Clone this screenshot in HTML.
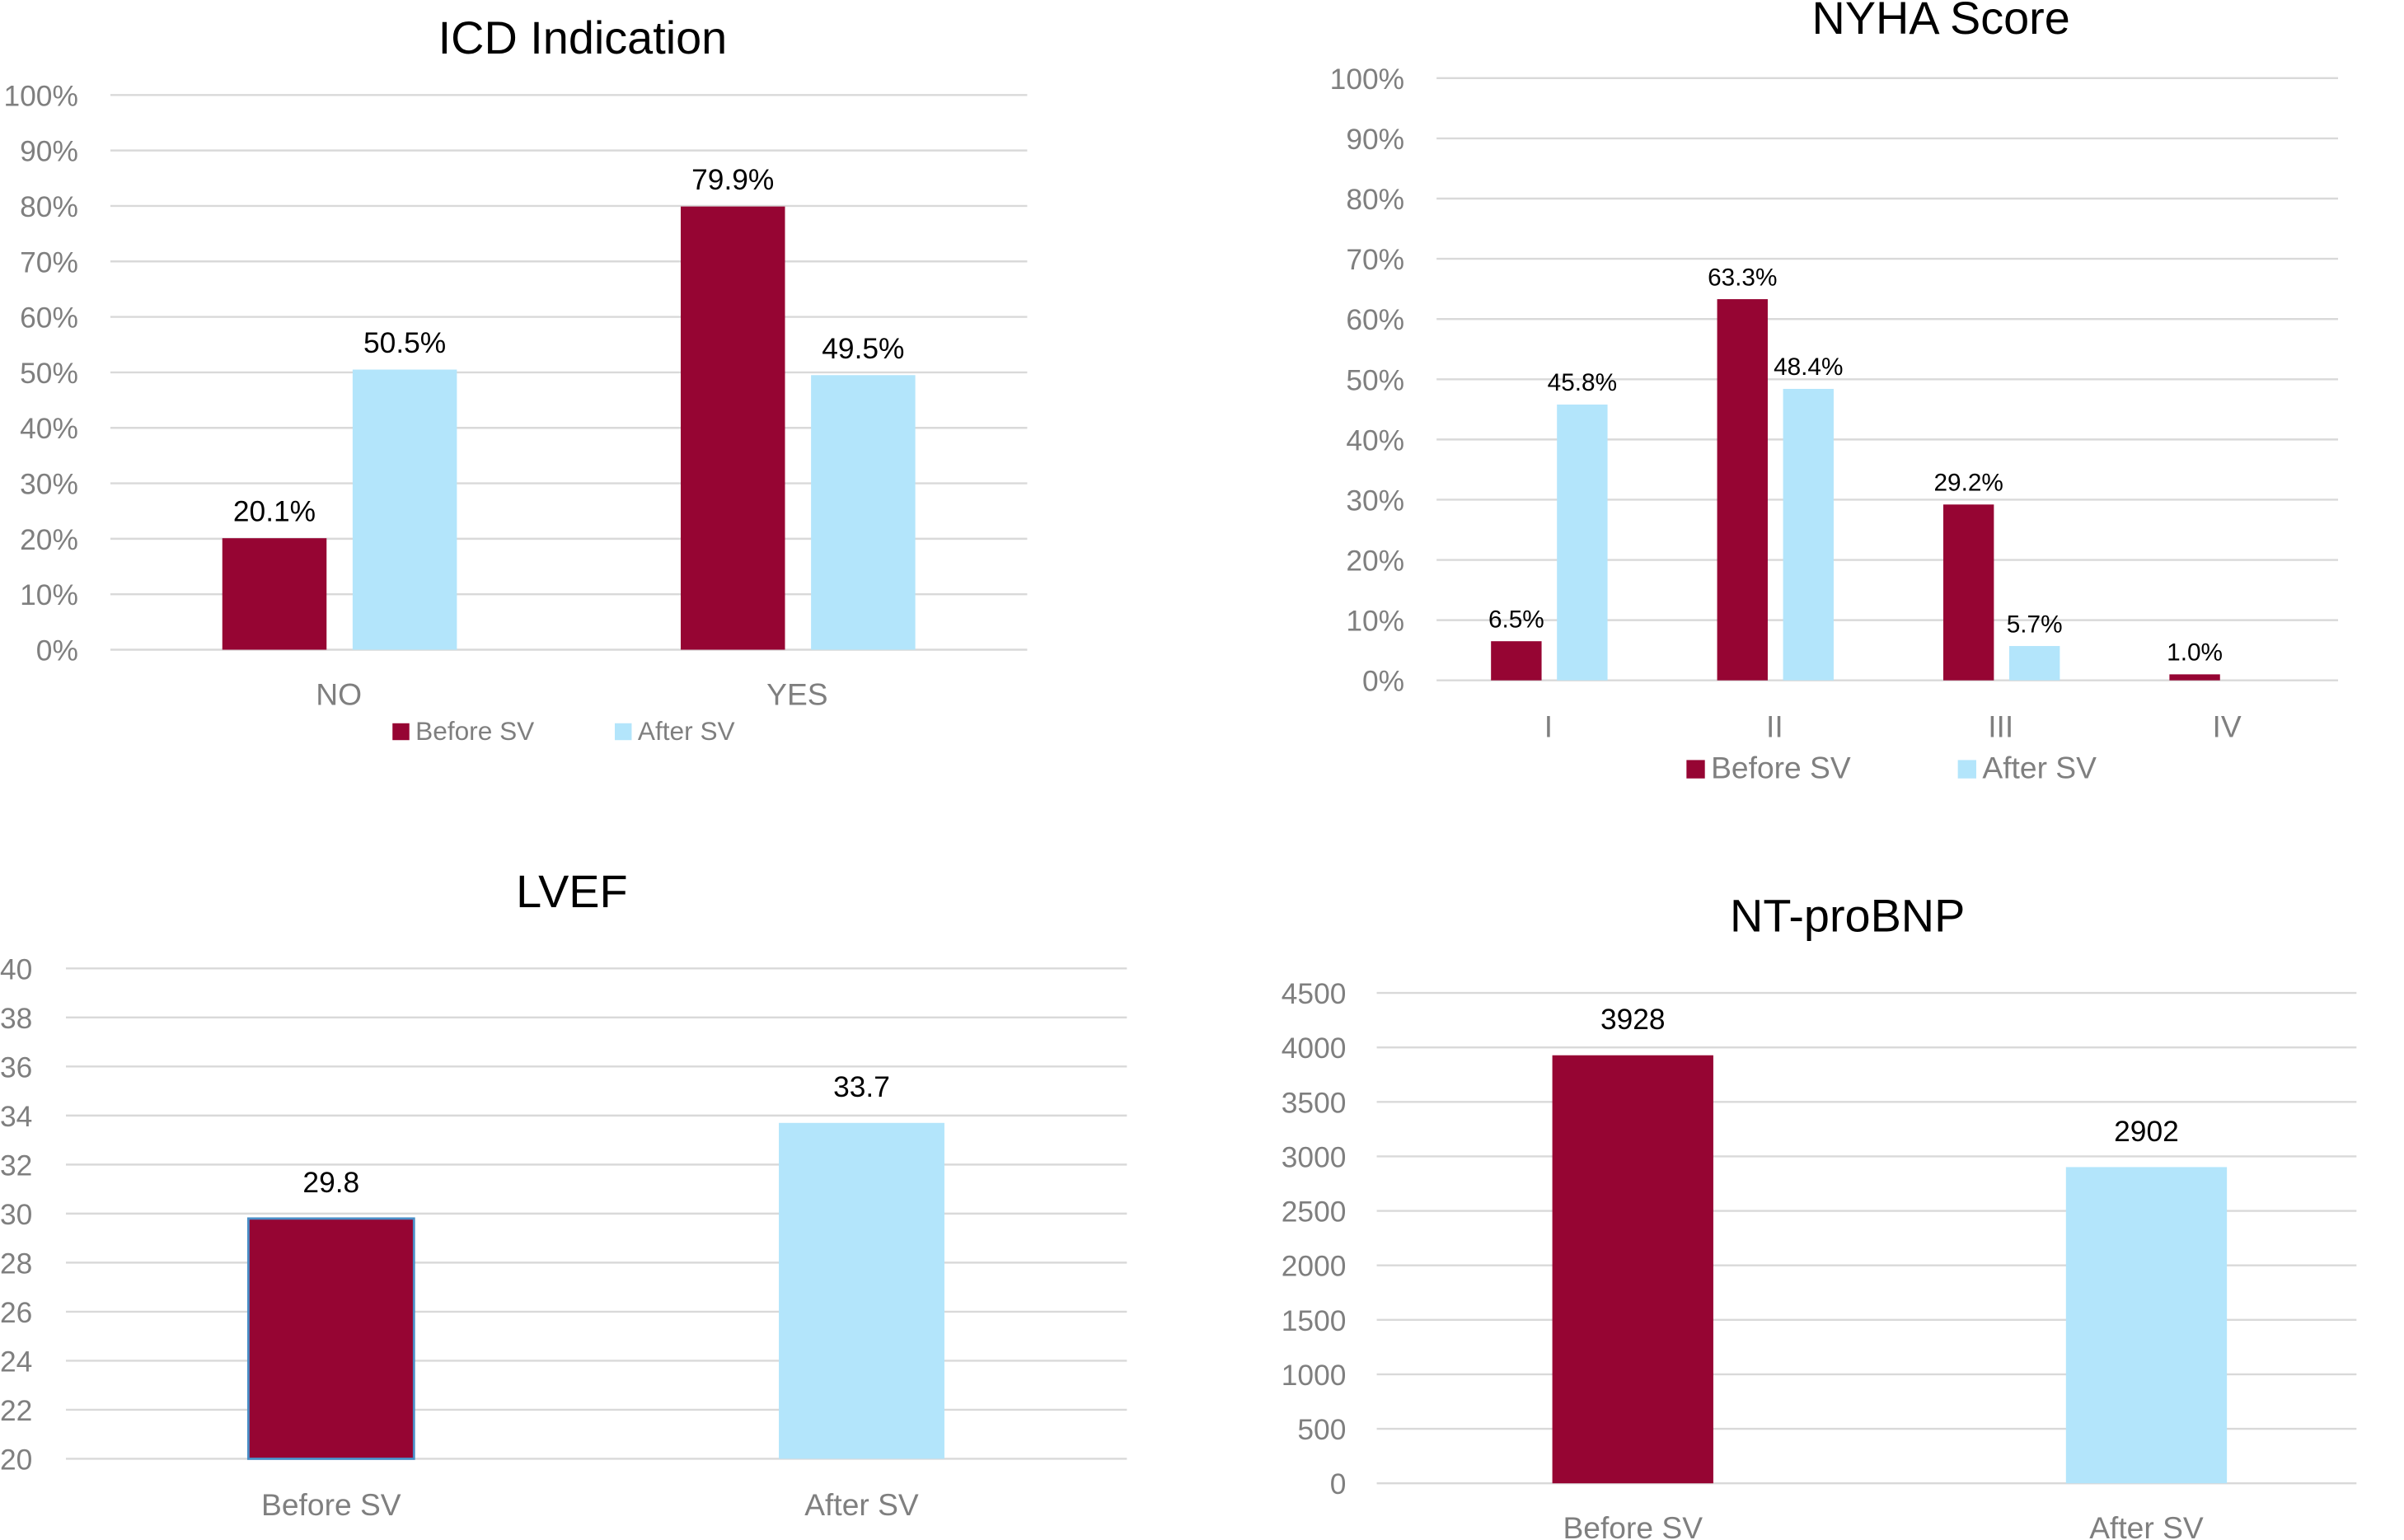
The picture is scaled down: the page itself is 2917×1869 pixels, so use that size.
<!DOCTYPE html>
<html><head><meta charset="utf-8"><style>
html,body{margin:0;padding:0;background:#fff;}
svg{display:block;font-family:"Liberation Sans",sans-serif;}
</style></head><body>
<svg id="root" width="2917" height="1869" viewBox="0 0 1568 1005" preserveAspectRatio="none" xmlns="http://www.w3.org/2000/svg"></svg>
<script>
// ICD Indication
const icdCategories = ["NO", "YES"];
const icdBefore = [20.1, 79.9];
const icdAfter = [50.5, 49.5];
const icdTicks = [0,10,20,30,40,50,60,70,80,90,100];
// NYHA Score
const nyhaCategories = ["I", "II", "III", "IV"];
const nyhaBefore = [6.5, 63.3, 29.2, 1.0];
const nyhaAfter = [45.8, 48.4, 5.7, 0];
const nyhaTicks = [0,10,20,30,40,50,60,70,80,90,100];
// LVEF
const lvefCategories = ["Before SV", "After SV"];
const lvefValues = [29.8, 33.7];
const lvefTicks = [20,22,24,26,28,30,32,34,36,38,40];
// NT-proBNP
const bnpCategories = ["Before SV", "After SV"];
const bnpValues = [3928, 2902];
const bnpTicks = [0,500,1000,1500,2000,2500,3000,3500,4000,4500];

const NS = "http://www.w3.org/2000/svg";
const root = document.getElementById("root");
const MAROON = "#960533", BLUE = "#b3e5fb", GRID = "#d9d9d9", AX = "#7f7f7f";
function el(tag, attrs, parent, text) {
  const e = document.createElementNS(NS, tag);
  for (const k in attrs) e.setAttribute(k, attrs[k]);
  if (text !== undefined) e.textContent = text;
  (parent || root).appendChild(e);
  return e;
}
function makeChart(o) {
  const g = el("g", {}, root);
  
  
  const y = v => o.y0 - (v - o.vmin) / (o.vmax - o.vmin) * (o.y0 - o.y1);
  const t = el("text", {x: o.titleX, y: o.titleY, "text-anchor": "middle", "font-size": 30, fill: "#000"}, g, o.title);
  
  
  o.ticks.forEach(v => {
    const ln = el("line", {x1: o.gx0, x2: o.gx1, y1: y(v), y2: y(v), stroke: GRID, "stroke-width": 1.3}, g);
    
    
    const lb = el("text", {x: o.tickX, y: y(v) + 7, "text-anchor": o.tickAnchor || "end", "font-size": 19, fill: AX}, g, v + o.suffix);
    
    
  });
  o.cats.forEach((c, i) => {
    const cx = o.catX(i);
    const lb = el("text", {x: cx, y: o.catY, "text-anchor": "middle", "font-size": 20, fill: AX}, g, c);
    
    
    o.series.forEach(s => {
      const v = s.values[i];
      const bx = cx + s.offset - o.bw / 2;
      if (v > o.vmin) {
        const attrs = {x: bx, y: y(v), width: o.bw, height: y(o.vmin) - y(v), fill: s.colorFn ? s.colorFn(i) : s.color};
        if (s.strokeFn && s.strokeFn(i)) { attrs.stroke = s.strokeFn(i); attrs["stroke-width"] = 1.5; }
        const r = el("rect", attrs, g);
        
        
      }
      if (v > 0) {
        const dl = el("text", {x: cx + s.offset, y: y(v) - (o.dlGap || 11), "text-anchor": "middle", "font-size": o.dlSize, fill: "#000"}, g, o.fmt(v));
        
        
      }
    });
  });
  if (o.legend) {
    o.legend.forEach(L => {
      const sq = el("rect", {x: L.x, y: o.legendY - L.sz, width: L.sz, height: L.sz, fill: L.color}, g);
      
      
      const tx = el("text", {x: L.x + L.sz + 4, y: o.legendY, "font-size": L.fs, fill: AX}, g, L.text);
      
      
    });
  }
}
makeChart({name: "icd-chart", title: "ICD Indication", titleX: 380, titleY: 35,
  vmin: 0, vmax: 100, y0: 424, y1: 62, gx0: 72, gx1: 670, tickX: 51, suffix: "%", ticks: icdTicks,
  cats: icdCategories, catX: i => 221 + i * 299, catY: 460, bw: 68, dlSize: 19,
  fmt: v => v.toFixed(1) + "%",
  series: [{key: "before", values: icdBefore, color: MAROON, offset: -42}, {key: "after", values: icdAfter, color: BLUE, offset: 43}],
  legendY: 483, legend: [{x: 256, sz: 11, fs: 17, color: MAROON, text: "Before SV"}, {x: 401, sz: 11, fs: 17, color: BLUE, text: "After SV"}]});
makeChart({name: "nyha-chart", title: "NYHA Score", titleX: 1266, titleY: 22,
  vmin: 0, vmax: 100, y0: 444, y1: 51, gx0: 937, gx1: 1525, tickX: 916, suffix: "%", ticks: nyhaTicks,
  cats: nyhaCategories, catX: i => 1010 + i * 147.5, catY: 481, bw: 33, dlSize: 16, dlGap: 9,
  fmt: v => v.toFixed(1) + "%",
  series: [{key: "before", values: nyhaBefore, color: MAROON, offset: -21}, {key: "after", values: nyhaAfter, color: BLUE, offset: 22}],
  legendY: 508, legend: [{x: 1100, sz: 12, fs: 20, color: MAROON, text: "Before SV"}, {x: 1277, sz: 12, fs: 20, color: BLUE, text: "After SV"}]});
makeChart({name: "lvef-chart", title: "LVEF", titleX: 373, titleY: 592,
  vmin: 20, vmax: 40, y0: 952, y1: 632, gx0: 43, gx1: 735, tickX: 0, tickAnchor: "start", suffix: "", ticks: lvefTicks,
  cats: lvefCategories, catX: i => 216 + i * 346, catY: 989, bw: 108, dlSize: 19, dlGap: 17,
  fmt: v => v.toFixed(1),
  series: [{key: "value", values: lvefValues, colorFn: i => i === 0 ? MAROON : BLUE, strokeFn: i => i === 0 ? "#4a8fc7" : null, offset: 0}]});
makeChart({name: "ntprobnp-chart", title: "NT-proBNP", titleX: 1205, titleY: 608,
  vmin: 0, vmax: 4500, y0: 968, y1: 648, gx0: 898, gx1: 1537, tickX: 878, suffix: "", ticks: bnpTicks,
  cats: bnpCategories, catX: i => 1065 + i * 335, catY: 1004, bw: 105, dlSize: 19, dlGap: 17,
  fmt: v => String(v),
  series: [{key: "value", values: bnpValues, colorFn: i => i === 0 ? MAROON : BLUE, offset: 0}]});
</script>
</body></html>
